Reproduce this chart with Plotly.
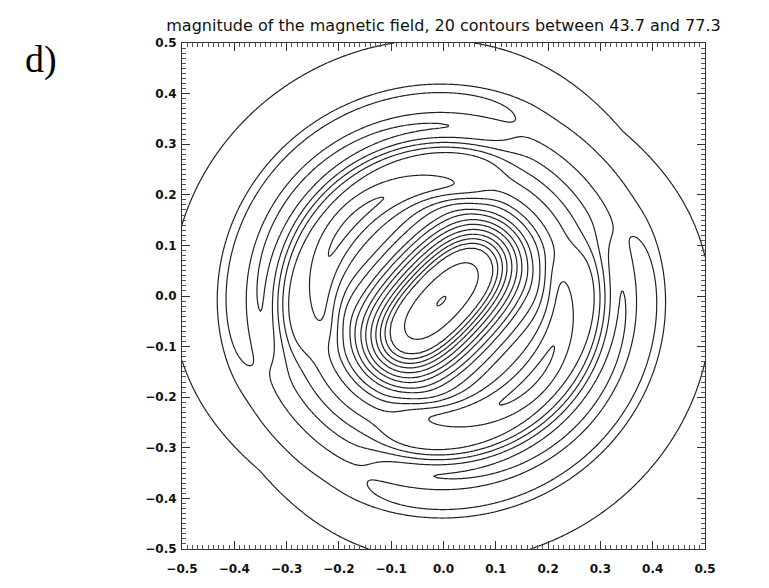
import numpy as np
import plotly.graph_objects as go

# ---------------- text / axes ----------------
title_text = "magnitude of the magnetic field, 20 contours between 43.7 and 77.3"
panel_label = "d)"
level_min = 43.7
level_max = 77.3
n_levels = 20
tick_values = [-0.5, -0.4, -0.3, -0.2, -0.1, 0.0, 0.1, 0.2, 0.3, 0.4, 0.5]

# ---------------- field description ----------------
levels = [level_min + i * (level_max - level_min) / (n_levels - 1) for i in range(n_levels)]
# radius where each contour level is crossed, from centre outward
profile_radius = [0.0, 0.025, 0.05, 0.075, 0.084, 0.093, 0.102, 0.112, 0.123, 0.133,
                  0.146, 0.157, 0.175, 0.19, 0.214, 0.25, 0.285, 0.32, 0.36, 0.415,
                  0.475, 0.75]
profile_value = [77.4, 76.95] + levels[18::-1] + [38.0]
field_centre = [-0.004, -0.010]
ellipse_tilt_deg = 48.0
ellipse_aspect = [2.8, 0.18]          # central axis ratio, fall-off radius
# ripple in the annulus (crests near r = 0.28 and 0.40)
ripple_crest = 0.28
ripple_wavelength = 0.12
ripple_amplitude = 2.7
ripple_band = [0.32, 0.12]           # centre and half-width of the rippled band
ripple_direction_deg = 134.0
ripple_half_span_deg = 66.0
# outer bulge of the last contours toward the frame (upper left / lower right)
edge_bulge = [1.2, 0.49, 0.055]      # amplitude, radius, width

# ---------------- build the grid ----------------
n = 321
xs = np.linspace(-0.5, 0.5, n)
ys = np.linspace(-0.5, 0.5, n)
X, Y = np.meshgrid(xs, ys)
dx = X - field_centre[0]
dy = Y - field_centre[1]
r = np.hypot(dx, dy)
th = np.arctan2(dy, dx)

alpha = np.deg2rad(ellipse_tilt_deg)
a = 1.0 + (ellipse_aspect[0] - 1.0) * np.exp(-(r / ellipse_aspect[1]) ** 2)
phi = th - alpha
num = np.cos(phi) ** 2 / a + a * np.sin(phi) ** 2
den = np.cos(alpha) ** 2 / a + a * np.sin(alpha) ** 2
rho = r * np.sqrt(num / den)
Z = np.interp(rho, profile_radius, profile_value)

delta = np.rad2deg(th) - ripple_direction_deg
delta = (delta + 90.0) % 180.0 - 90.0
H = np.exp(-(np.abs(delta) / ripple_half_span_deg) ** 10)
envelope = np.exp(-((r - ripple_band[0]) / ripple_band[1]) ** 4)
ripple = ripple_amplitude * np.cos(2 * np.pi * (r - ripple_crest) / ripple_wavelength)
Z = Z + H * envelope * ripple
Hb = np.exp(-(np.abs(delta) / 75.0) ** 4)
Z = Z + edge_bulge[0] * Hb * np.exp(-((r - edge_bulge[1]) / edge_bulge[2]) ** 2)

fig = go.Figure()
fig.add_trace(go.Contour(
    x=xs, y=ys, z=Z,
    contours=dict(start=levels[0], end=levels[-1], size=(level_max - level_min) / (n_levels - 1),
                  coloring="lines"),
    colorscale=[[0, "#222"], [1, "#222"]],
    showscale=False,
    line=dict(width=1.2),
    hoverinfo="skip",
))

axis_common = dict(
    range=[-0.5, 0.5], tickmode="array", tickvals=tick_values, tickformat=".1f",
    ticks="inside", ticklen=8, tickwidth=1, tickcolor="#333",
    minor=dict(dtick=0.01, ticklen=4, tickcolor="#555", ticks="inside", showgrid=False),
    showgrid=False, zeroline=False, showline=True, linecolor="#333", linewidth=1,
    mirror="ticks",
    tickfont=dict(family="DejaVu Sans", size=12, color="#111", weight="bold"),
)
fig.update_xaxes(**axis_common, ticklabelstandoff=9)
fig.update_yaxes(**axis_common, ticklabelstandoff=2)

fig.update_layout(
    width=769, height=588,
    margin=dict(l=182, r=64, t=43, b=27),
    paper_bgcolor="white", plot_bgcolor="white",
    title=dict(text=title_text, x=(182 + 523 / 2) / 769, xanchor="center", y=1 - 25 / 588,
               yanchor="middle", font=dict(family="DejaVu Sans", size=16, color="#111")),
    annotations=[dict(text=panel_label, xref="paper", yref="paper", x=(41 - 182) / 523,
                      y=(561 - 60) / 518, xanchor="center", yanchor="middle", showarrow=False,
                      font=dict(family="Liberation Serif", size=38, color="black"))],
    showlegend=False,
)
fig.write_html("out.html")
